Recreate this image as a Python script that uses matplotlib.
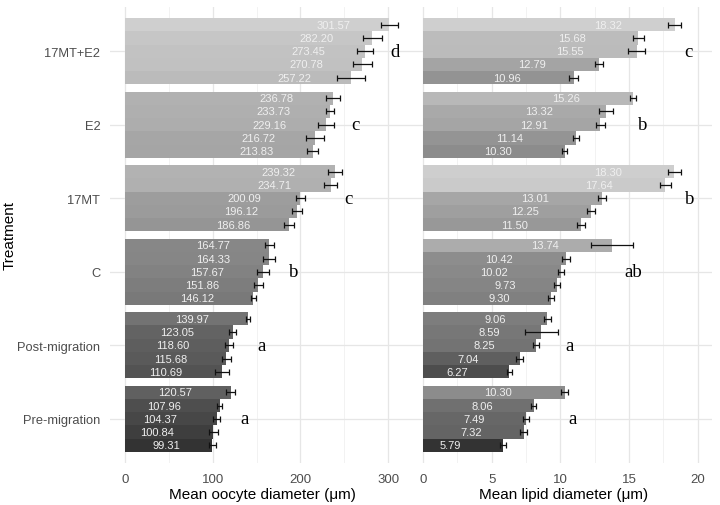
import matplotlib
matplotlib.use("Agg")
import matplotlib.pyplot as plt
import numpy as np

plt.rcParams['font.family'] = ['Liberation Sans', 'DejaVu Sans']

groups = ["Pre-migration", "Post-migration", "C", "17MT", "E2", "17MT+E2"]

# 5 bars per treatment, sorted bottom -> top
oocyte_means = [
    [99.31, 100.84, 104.37, 107.96, 120.57],
    [110.69, 115.68, 118.60, 123.05, 139.97],
    [146.12, 151.86, 157.67, 164.33, 164.77],
    [186.86, 196.12, 200.09, 234.71, 239.32],
    [213.83, 216.72, 229.16, 233.73, 236.78],
    [257.22, 270.78, 273.45, 282.20, 301.57],
]
oocyte_se = [
    [4.0, 5.0, 3.6, 3.0, 5.0],
    [7.6, 5.5, 4.6, 4.0, 2.5],
    [3.0, 5.0, 7.0, 7.0, 4.8],
    [5.7, 6.0, 5.0, 7.6, 8.0],
    [6.0, 10.5, 9.0, 5.0, 8.0],
    [16.0, 11.0, 9.0, 11.0, 10.0],
]
lipid_means = [
    [5.79, 7.32, 7.49, 8.06, 10.30],
    [6.27, 7.04, 8.25, 8.59, 9.06],
    [9.30, 9.73, 10.02, 10.42, 13.74],
    [11.50, 12.25, 13.01, 17.64, 18.30],
    [10.30, 11.14, 12.91, 13.32, 15.26],
    [10.96, 12.79, 15.55, 15.68, 18.32],
]
lipid_se = [
    [0.22, 0.24, 0.20, 0.20, 0.27],
    [0.19, 0.27, 0.22, 1.20, 0.29],
    [0.20, 0.23, 0.23, 0.28, 1.52],
    [0.32, 0.28, 0.28, 0.40, 0.44],
    [0.19, 0.24, 0.32, 0.49, 0.22],
    [0.30, 0.30, 0.63, 0.42, 0.46],
]

oocyte_letters = ["a", "a", "b", "c", "c", "d"]
oocyte_letter_x = [136, 156, 192, 255, 263, 308]
lipid_letters = ["a", "a", "ab", "b", "b", "c"]
lipid_letter_x = [10.85, 10.7, 15.3, 19.4, 16.0, 19.3]

fig = plt.figure(figsize=(7.2, 5.06), dpi=100)
ax1 = fig.add_axes([110/720, 42/506, 305/720, 456/506])
ax2 = fig.add_axes([415/720, 42/506, 297/720, 456/506])

bar_h = 0.18
lab_fs = 8


def draw_panel(ax, means, ses, letters, letter_x, xlim, major, minor, xlabel, k):
    means = np.array(means)
    lo, hi = means.min(), means.max()
    ax.set_xlim(*xlim)
    ax.set_ylim(0.4, 6.6)
    # grid
    for m in minor:
        ax.axvline(m, color="#f0f0f0", lw=0.6, zorder=0)
    for m in major:
        ax.axvline(m, color="#e6e6e6", lw=0.9, zorder=0)
    for g in range(len(groups)):
        ax.axhline(g + 1, color="#e6e6e6", lw=0.9, zorder=0)
    for g in range(len(groups)):
        ys = g + 1 - 0.45 + bar_h/2 + bar_h*np.arange(5)
        for i in range(5):
            v = means[g][i]
            t = (v - lo) / (hi - lo)
            gv = 0.2 + 0.61 * t**0.55
            ax.barh(ys[i], v, height=bar_h, color=(gv, gv, gv), zorder=2)
            ax.errorbar(v, ys[i], xerr=ses[g][i], fmt="none", ecolor="#111111",
                        elinewidth=0.9, capsize=2.2, capthick=0.9, zorder=3)
            lab = "%.2f" % v
            ndig = len(lab) - 1
            w = lab_fs * (0.556*ndig + 0.278)
            ax.annotate(lab, xy=(v, ys[i]), xytext=(-k*w, 0), textcoords="offset points",
                        ha="center", va="center", fontsize=lab_fs, color="#efefef", zorder=4)
        ax.text(letter_x[g], g + 1, letters[g], ha="center", va="center",
                fontsize=13.5, family="Liberation Serif", color="black", zorder=4)
    ax.set_xticks(major)
    ax.set_xticklabels([str(m) for m in major])
    ax.tick_params(axis="x", length=0, pad=7, labelsize=9.5, labelcolor="#4d4d4d")
    ax.set_xlabel(xlabel, fontsize=11, labelpad=2)
    for s in ax.spines.values():
        s.set_visible(False)


draw_panel(ax1, oocyte_means, oocyte_se, oocyte_letters, oocyte_letter_x,
           (-17.1, 330.7), [0, 100, 200, 300], [50, 150, 250],
           "Mean oocyte diameter (\u03bcm)", 1.65)
draw_panel(ax2, lipid_means, lipid_se, lipid_letters, lipid_letter_x,
           (-0.58, 21.03), [0, 5, 10, 15, 20], [2.5, 7.5, 12.5, 17.5],
           "Mean lipid diameter (\u03bcm)", 2.4)

ax1.set_yticks(range(1, len(groups) + 1))
ax1.set_yticklabels(groups)
ax1.tick_params(axis="y", length=0, pad=7, labelsize=9.3, labelcolor="#4d4d4d")
ax1.set_ylabel("Treatment", fontsize=11, va="center")
ax1.yaxis.set_label_coords(-100/305, 0.5)
ax2.set_yticks([])

fig.savefig("out.png", dpi=100)
